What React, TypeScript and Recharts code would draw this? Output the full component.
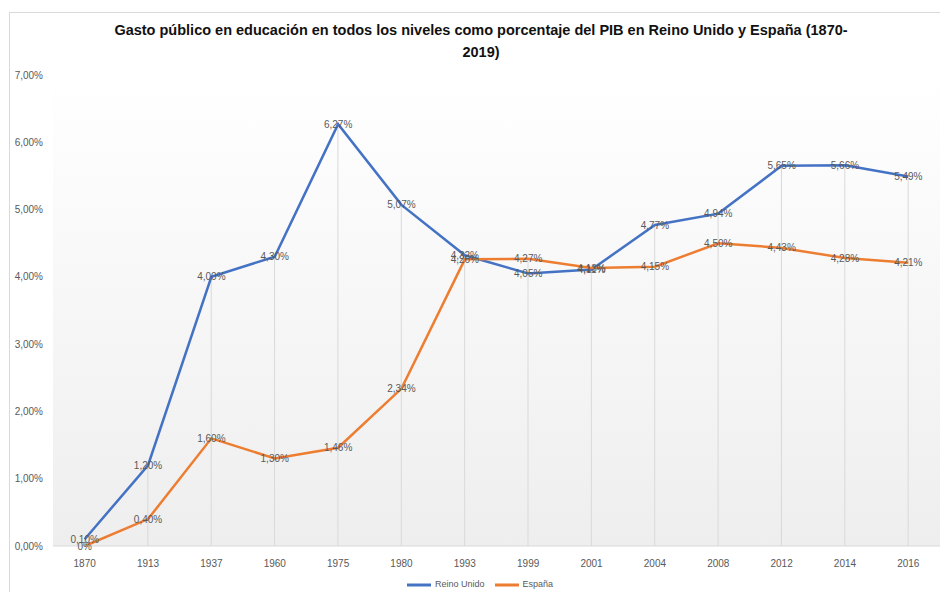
import React from 'react';
import { ComposedChart, Line, Bar, XAxis, YAxis, CartesianGrid, Legend, LabelList } from 'recharts';

const years = ['1870', '1913', '1937', '1960', '1975', '1980', '1993', '1999', '2001', '2004', '2008', '2012', '2014', '2016'];
const reinoUnido = [0.10, 1.20, 4.00, 4.30, 6.27, 5.07, 4.32, 4.05, 4.11, 4.77, 4.94, 5.65, 5.66, 5.49];
const espana = [0, 0.40, 1.60, 1.30, 1.46, 2.34, 4.26, 4.27, 4.13, 4.15, 4.50, 4.43, 4.28, 4.21];
const yTicks = [0, 1, 2, 3, 4, 5, 6, 7];
const seriesOrder = ['Reino Unido', 'España'];

const FONT = '"Liberation Sans", Arial, sans-serif';

// drop lines go from the higher of the two points down to the axis
const data = years.map((year, i) => ({
  year,
  uk: reinoUnido[i],
  es: espana[i],
  drop: Math.max(reinoUnido[i], espana[i]),
}));

const pct = (v: any) => {
  const n = Number(v);
  if (n === 0) return '0%';
  return n.toFixed(2).replace('.', ',') + '%';
};

export default function App() {
  return (
    <div style={{ position: 'absolute', left: 0, top: 0, width: 940, height: 592, background: '#fff', overflow: 'hidden', fontFamily: FONT }}>
      <div style={{ position: 'absolute', left: 9, top: 12, width: 960, height: 620, borderLeft: '1px solid #d9d9d9', borderTop: '1px solid #d9d9d9' }} />
      <div style={{ position: 'absolute', left: 0, top: 19, width: 962, textAlign: 'center', fontSize: 14.5, fontWeight: 'bold', color: '#111', lineHeight: '22px' }}>
        Gasto público en educación en todos los niveles como porcentaje del PIB en Reino Unido y España (1870-
        <br />
        2019)
      </div>
      <ComposedChart width={940} height={592} data={data} margin={{ top: 75, right: 0, left: 0, bottom: 16 }} style={{ position: 'absolute', left: 0, top: 0 }}>
        <defs>
          <linearGradient id="plotBg" x1="0" y1="0" x2="0" y2="1">
            <stop offset="0%" stopColor="#ffffff" />
            <stop offset="100%" stopColor="#eeeeee" />
          </linearGradient>
        </defs>
        <CartesianGrid horizontal={false} vertical={false} fill="url(#plotBg)" stroke="none" />
        <XAxis
          dataKey="year"
          height={30}
          tickLine={false}
          axisLine={{ stroke: '#d9d9d9' }}
          tick={{ fill: '#595959', fontSize: 10, fontFamily: FONT }}
          tickMargin={8}
        />
        <YAxis
          width={53}
          domain={[0, 7]}
          ticks={yTicks}
          tickFormatter={(v) => v.toFixed(2).replace('.', ',') + '%'}
          axisLine={false}
          tickLine={false}
          tickSize={0}
          tickMargin={10}
          tick={{ fill: '#595959', fontSize: 10, fontFamily: FONT }}
        />
        <Bar dataKey="drop" barSize={1} fill="#d9d9d9" legendType="none" isAnimationActive={false} />
        <Line type="linear" dataKey="uk" name="Reino Unido" stroke="#4472C4" strokeWidth={2.5} dot={false} isAnimationActive={false}>
          <LabelList dataKey="uk" position="center" formatter={pct} style={{ fill: '#595959', fontSize: 10, fontFamily: FONT }} />
        </Line>
        <Line type="linear" dataKey="es" name="España" stroke="#ED7D31" strokeWidth={2.5} dot={false} isAnimationActive={false}>
          <LabelList dataKey="es" position="center" formatter={pct} style={{ fill: '#595959', fontSize: 10, fontFamily: FONT }} />
        </Line>
        <Legend
          layout="horizontal"
          verticalAlign="middle"
          align="center"
          iconType="plainline"
          iconSize={24}
          itemSorter={(item: any) => seriesOrder.indexOf(item.value)}
          wrapperStyle={{ top: 573, left: 0, width: 970, fontSize: 9 }}
          formatter={(value) => <span style={{ color: '#595959' }}>{value}</span>}
        />
      </ComposedChart>
    </div>
  );
}
